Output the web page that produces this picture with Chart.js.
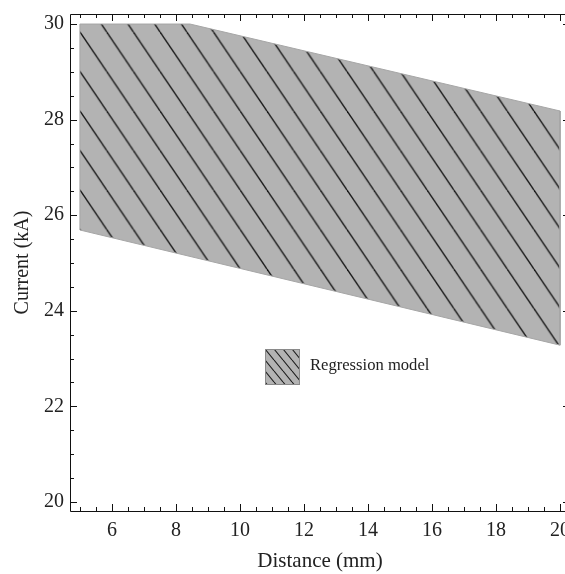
<!DOCTYPE html>
<html>
<head>
<meta charset="utf-8">
<script src="https://cdn.jsdelivr.net/npm/chart.js@4/dist/chart.umd.min.js"></script>
<style>
html,body{margin:0;padding:0;background:#fff;overflow:hidden;width:565px;height:574px;}
canvas{display:block;}
</style>
</head>
<body>
<canvas id="c" width="575" height="574"></canvas>
<script>
// ---- data ----
const upperX = [5, 8.44, 20];
const upperY = [30, 30, 28.18];
const lowerX = [20, 5];
const lowerY = [23.28, 25.69];
const seriesName = 'Regression model';
const xMajorTicks = [6, 8, 10, 12, 14, 16, 18, 20];
const yMajorTicks = [20, 22, 24, 26, 28, 30];
const xTitle = 'Distance (mm)';
const yTitle = 'Current (kA)';
const xRange = [4.69, 20.31];
const yRange = [19.81, 30.21];

const FONT = "'Liberation Serif', 'Times New Roman', serif";
const canvas = document.getElementById('c');
const ctx = canvas.getContext('2d');

function makeHatch(w, h, bg, lw) {
  const t = document.createElement('canvas');
  t.width = w; t.height = h;
  const g = t.getContext('2d');
  g.fillStyle = bg; g.fillRect(0, 0, w, h);
  g.strokeStyle = '#1a1a1a'; g.lineWidth = lw;
  for (const dx of [-w, 0, w]) {
    g.beginPath(); g.moveTo(dx, 0); g.lineTo(dx + w, h); g.stroke();
  }
  return t;
}
const mainPattern = ctx.createPattern(makeHatch(27, 40, '#b3b3b3', 1.4), 'repeat');
if (mainPattern.setTransform) mainPattern.setTransform(new DOMMatrix([26.7/27, 0, 0, 39.5/40, 80, 32]));
const legendPattern = ctx.createPattern(makeHatch(9, 11, '#b3b3b3', 1.1), 'repeat');
if (legendPattern.setTransform) legendPattern.setTransform(new DOMMatrix([1, 0, 0, 1, 265, 349]));

const polygon = [];
upperX.forEach((x, i) => polygon.push({x, y: upperY[i]}));
lowerX.forEach((x, i) => polygon.push({x, y: lowerY[i]}));
polygon.push({x: upperX[0], y: upperY[0]});

function minorList(a, b, step) {
  const out = [];
  for (let v = Math.ceil(a / step) * step; v <= b + 1e-9; v += step) out.push(Math.round(v * 100) / 100);
  return out;
}

const framePlugin = {
  id: 'frame',
  afterDatasetsDraw(chart) {
    const c = chart.ctx, a = chart.chartArea;
    const xs = chart.scales.x, ys = chart.scales.y;
    c.save();
    c.strokeStyle = '#111'; c.lineWidth = 1;
    c.beginPath();
    c.rect(Math.round(a.left) + 0.5, Math.round(a.top) + 0.5, Math.round(a.right - a.left), Math.round(a.bottom - a.top));
    c.stroke();
    const xMin = minorList(xRange[0], xRange[1], 0.5);
    const yMin = minorList(yRange[0], yRange[1], 0.5);
    c.beginPath();
    xMin.forEach(v => {
      const px = Math.round(xs.getPixelForValue(v)) + 0.5;
      const L = (Math.abs(v / 2 - Math.round(v / 2)) < 1e-6) ? 7 : 4;
      c.moveTo(px, a.bottom); c.lineTo(px, a.bottom - L);
      c.moveTo(px, a.top); c.lineTo(px, a.top + L);
    });
    yMin.forEach(v => {
      const py = Math.round(ys.getPixelForValue(v)) + 0.5;
      const L = (Math.abs(v / 2 - Math.round(v / 2)) < 1e-6) ? 7 : 4;
      c.moveTo(a.left, py); c.lineTo(a.left + L, py);
      c.moveTo(a.right, py); c.lineTo(a.right - L, py);
    });
    c.stroke();
    // legend inside plot
    const bx = 265, by = 349, bw = 34, bh = 35;
    c.fillStyle = legendPattern;
    c.fillRect(bx, by, bw, bh);
    c.strokeStyle = '#8a8a8a'; c.lineWidth = 1;
    c.strokeRect(bx + 0.5, by + 0.5, bw, bh);
    c.fillStyle = '#222';
    c.font = '16.6px ' + FONT;
    c.textBaseline = 'middle'; c.textAlign = 'left';
    c.fillText(seriesName, 310, 366);
    c.restore();
  }
};

new Chart(canvas, {
  type: 'line',
  data: {
    datasets: [{
      label: seriesName,
      data: polygon,
      fill: 'shape',
      backgroundColor: mainPattern,
      borderColor: '#a6a6a6',
      borderWidth: 1,
      pointRadius: 0,
      tension: 0
    }]
  },
  options: {
    responsive: false,
    animation: false,
    devicePixelRatio: 1,
    layout: {padding: {top: 14, right: 5, left: 0, bottom: 0}},
    plugins: {legend: {display: false}, tooltip: {enabled: false}},
    scales: {
      x: {
        type: 'linear', min: xRange[0], max: xRange[1],
        afterFit(s) { s.height = 63; s.paddingLeft = 0; s.paddingRight = 0; },
        afterBuildTicks(s) { s.ticks = xMajorTicks.map(v => ({value: v})); },
        grid: {display: false, drawTicks: false},
        border: {display: false},
        ticks: {color: '#222', padding: 8, maxRotation: 0, autoSkip: false, font: {family: FONT, size: 20}},
        title: {display: true, text: xTitle, color: '#222', font: {family: FONT, size: 21}, padding: {top: 0, bottom: 0}}
      },
      y: {
        type: 'linear', min: yRange[0], max: yRange[1],
        afterFit(s) { s.width = 70; s.paddingTop = 0; s.paddingBottom = 0; },
        afterBuildTicks(s) { s.ticks = yMajorTicks.map(v => ({value: v})); },
        grid: {display: false, drawTicks: false},
        border: {display: false},
        ticks: {color: '#222', padding: 6, autoSkip: false, font: {family: FONT, size: 20}},
        title: {display: true, text: yTitle, color: '#222', font: {family: FONT, size: 20}, padding: {top: 11, bottom: 0}}
      }
    }
  },
  plugins: [framePlugin]
});
</script>
</body>
</html>
